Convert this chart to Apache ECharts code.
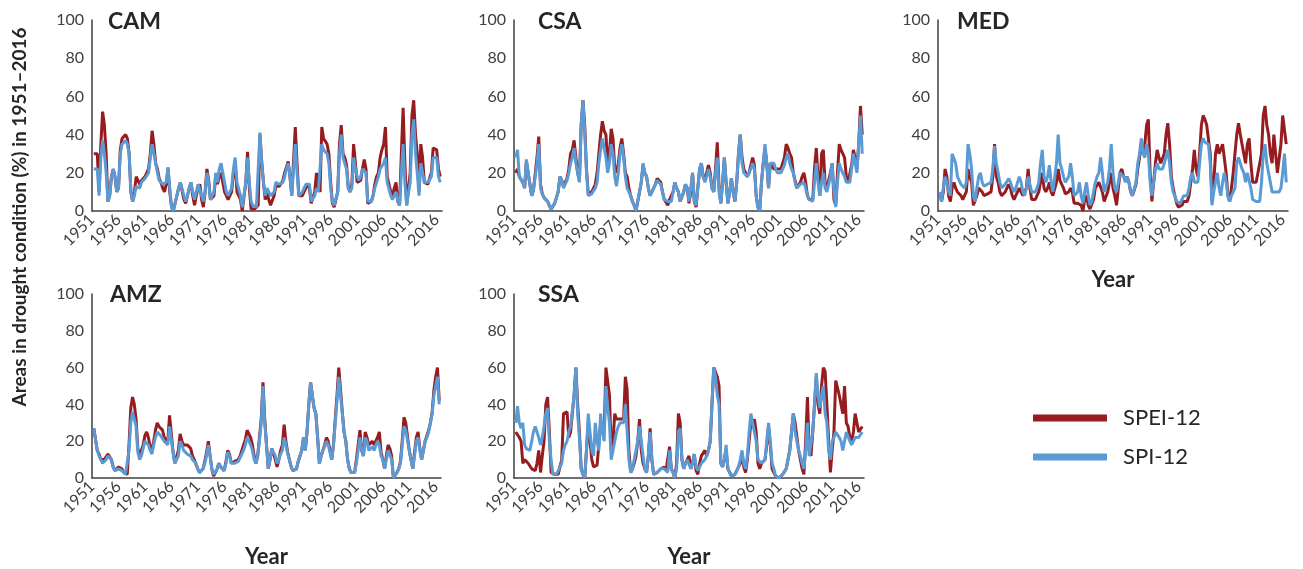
<!DOCTYPE html>
<html>
<head>
<meta charset="utf-8">
<script src="https://cdn.jsdelivr.net/npm/echarts/dist/echarts.min.js"></script>
<style>
html,body{margin:0;padding:0;background:#fff;}
#chart{width:1303px;height:569px;}
</style>
</head>
<body>
<div id="chart"></div>
<script>
// Tick labels (years) and sampling: 3 samples per year, 1951–2016
const startYear = 1951;
const tickYears = [1951,1956,1961,1966,1971,1976,1981,1986,1991,1996,2001,2006,2011,2016];
const panelNames = ['CAM','CSA','MED','AMZ','SSA'];
const seriesNames = ['SPEI-12','SPI-12'];

// ---- CAM ----
const camSpi = [
null,22,22, 22,8,28, 37,30,20, 5,8,18, 22,18,10,
12,30,35, 36,37,35, 30,10,5, 8,13,14, 12,15,16,
17,18,20, 28,35,30, 25,20,16, 15,14,13, 15,23,12,
2,0,0, 8,12,15, 14,8,5, 8,12,15, 10,6,10,
14,15,8, 5,10,20, 15,6,5, 10,20,15, 22,25,20,
15,10,8, 7,12,22, 28,15,15, 8,2,2, 15,28,15,
5,3,2, 2,3,41, 25,15,8, 12,12,8, 8,10,15,
15,14,15, 15,18,22, 25,18,8, 8,35,20, 8,8,10,
12,14,15, 14,5,5, 8,12,10, 10,35,32, 32,30,25,
12,5,3, 3,10,30, 40,28,25, 22,12,10, 12,28,22,
18,16,18, 22,22,20, 5,5,5, 8,12,15, 18,22,22,
25,28,15, 15,8,6, 8,10,5, 3,20,35, 15,3,3,
15,40,48, 30,20,8, 25,20,15, 15,15,15, 18,28,28,
28,18,15];
const camSpei = [
null,30,30, 30,10,35, 52,45,30, 5,8,18, 22,18,10,
12,32,38, 38,40,38, 30,10,5, 10,18,16, 14,16,17,
18,20,22, 30,42,35, 25,22,17, 15,12,10, 14,22,10,
2,0,0, 8,12,15, 14,6,4, 8,12,15, 8,3,8,
12,14,6, 2,10,22, 16,6,5, 8,18,14, 18,20,15,
10,8,6, 5,10,20, 25,10,10, 6,0,0, 15,31,12,
1,1,1, 2,3,40, 26,15,6, 10,6,3, 3,8,13,
13,13,14, 16,20,23, 26,18,8, 8,44,25, 8,8,8,
10,12,14, 12,4,4, 10,20,12, 10,44,38, 38,35,30,
15,4,2, 2,10,35, 45,30,28, 24,12,10, 14,35,25,
15,14,16, 22,27,22, 4,4,5, 8,14,18, 20,28,32,
35,44,18, 18,10,8, 12,15,5, 3,30,54, 25,3,3,
20,50,58, 40,30,10, 35,28,15, 14,14,15, 20,33,32,
32,22,18];

// ---- CSA ----
const csaSpi = [
null,28,32, 18,18,15, 12,27,20, 20,8,11, 12,25,35,
12,9,7, 6,5,3, 1,2,4, 5,10,18, 16,12,13,
16,20,25, 28,33,25, 20,15,45, 58,42,20, 8,8,9,
10,12,15, 25,32,38, 33,28,20, 25,35,30, 18,13,20,
30,35,28, 18,12,10, 8,5,3, 0,5,10, 15,25,20,
18,12,8, 10,12,14, 16,16,14, 10,6,5, 5,4,5,
10,15,12, 10,5,8, 10,14,12, 5,12,20, 5,3,12,
22,25,18, 15,18,22, 18,12,10, 20,28,10, 4,15,28,
15,4,10, 17,10,5, 15,30,40, 25,20,19, 18,18,22,
25,22,8, 2,0,15, 25,35,25, 12,25,25, 25,22,20,
20,20,22, 24,28,30, 25,22,20, 15,12,12, 14,15,15,
12,8,6, 5,5,15, 25,15,8, 15,20,12, 10,10,18,
25,10,2, 15,25,22, 20,18,15, 15,15,22, 30,25,20,
35,50,30];
const csaSpei = [
null,20,22, 18,18,15, 12,26,20, 20,8,11, 12,28,39,
14,9,7, 6,5,3, 1,2,4, 5,10,18, 16,13,15,
17,22,30, 32,37,28, 20,16,45, 58,45,22, 9,10,10,
12,14,20, 30,40,47, 42,40,25, 30,43,38, 22,20,25,
33,38,30, 20,18,12, 8,5,3, 0,5,10, 15,24,20,
18,12,8, 10,11,14, 17,17,15, 10,6,5, 3,6,8,
10,15,12, 10,5,6, 10,14,12, 4,10,20, 5,2,12,
22,25,18, 16,20,24, 20,12,10, 22,36,12, 4,15,28,
15,4,10, 17,10,5, 15,30,40, 28,22,20, 18,20,24,
28,24,8, 2,0,15, 25,33,25, 12,25,24, 22,22,22,
22,22,25, 28,35,33, 30,28,20, 16,12,13, 15,18,20,
15,8,6, 5,6,22, 33,18,8, 30,32,14, 12,16,20,
25,6,3, 20,35,32, 30,28,18, 15,16,24, 32,28,22,
35,55,40];

// ---- MED ----
const medSpi = [
null,10,5, 12,18,15, 10,8,30, 30,25,18, 16,14,13,
12,15,35, 30,22,8, 5,12,18, 20,15,13, 13,14,14,
15,22,34, 25,20,15, 12,12,14, 15,17,15, 12,10,12,
15,18,15, 10,8,12, 18,14,10, 10,10,12, 15,25,32,
18,15,18, 24,15,10, 10,25,40, 25,22,18, 15,15,18,
25,18,8, 8,10,15, 8,4,10, 15,8,3, 5,10,15,
18,20,28, 20,10,10, 15,22,35, 20,12,10, 15,20,20,
18,15,18, 15,10,8, 8,15,25, 30,38,30, 28,35,30,
15,8,15, 22,25,22, 22,22,25, 25,32,25, 15,10,8,
5,4,4, 5,8,8, 8,12,18, 20,15,15, 15,25,35,
38,36,35, 35,25,3, 10,15,20, 12,8,15, 20,15,8,
5,8,10, 12,25,28, 25,22,20, 15,20,20, 12,6,5,
5,5,5, 15,30,35, 25,20,15, 10,10,10, 10,10,12,
20,30,15];
const medSpei = [
null,10,5, 10,22,18, 8,5,12, 15,12,10, 9,8,6,
5,10,22, 18,15,3, 2,8,12, 12,10,8, 8,9,9,
10,18,35, 18,15,10, 8,8,10, 12,14,12, 8,6,8,
10,12,10, 8,10,12, 22,12,6, 5,6,8, 10,15,20,
12,10,12, 15,10,8, 8,15,22, 16,14,12, 9,8,10,
12,10,4, 3,4,5, 3,0,6, 8,3,1, 2,6,12,
12,15,15, 10,5,6, 10,15,20, 12,8,3, 12,20,22,
18,16,18, 15,10,8, 8,14,22, 28,35,30, 35,45,48,
20,5,15, 25,32,28, 25,25,30, 40,46,35, 18,12,8,
4,2,1, 3,5,5, 5,8,15, 22,32,22, 18,30,45,
50,48,45, 45,30,5, 15,30,35, 30,30,35, 35,20,8,
5,12,20, 30,40,46, 40,35,30, 25,35,38, 25,15,15,
15,20,25, 30,50,55, 45,40,30, 25,40,30, 20,20,35,
50,50,35];

// ---- AMZ ----
const amzSpi = [
null,27,27, 15,12,10, 8,8,10, 12,11,10, 6,4,4,
5,5,4, 3,2,2, 15,30,36, 36,28,14, 10,12,16,
20,20,18, 15,13,18, 22,25,25, 23,22,20, 20,18,28,
28,14,8, 7,12,20, 18,15,14, 13,13,12, 10,9,8,
5,3,3, 5,8,12, 18,12,5, 2,3,5, 8,6,5,
4,8,14, 12,8,8, 8,8,9, 10,13,15, 18,22,20,
18,15,10, 8,12,20, 30,50,30, 18,5,10, 16,16,12,
8,10,13, 15,22,18, 13,10,6, 4,3,5, 9,12,15,
22,15,25, 40,52,45, 38,35,22, 8,12,15, 17,20,18,
14,10,18, 30,42,55, 45,35,25, 20,10,5, 3,3,3,
8,15,22, 15,12,22, 20,15,16, 17,15,15, 20,18,12,
10,5,10, 15,15,10, 0,1,3, 5,8,18, 28,26,25,
15,10,5, 12,20,22, 15,10,15, 20,22,25, 30,35,45,
50,55,40];
const amzSpei = [
null,27,27, 15,13,10, 9,10,11, 13,12,10, 6,4,5,
6,5,5, 3,2,2, 18,38,44, 40,32,16, 12,15,18,
23,25,22, 17,15,20, 26,30,28, 28,26,22, 22,20,34,
34,14,8, 7,15,24, 20,18,17, 18,18,16, 12,10,9,
5,3,3, 5,9,14, 20,12,5, 1,2,5, 8,6,5,
4,9,15, 13,8,8, 9,9,10, 12,15,18, 21,26,24,
22,18,12, 8,12,22, 32,52,32, 18,5,10, 16,15,10,
6,10,15, 18,29,20, 14,10,6, 4,3,5, 9,12,15,
22,15,25, 40,52,45, 38,35,22, 8,12,15, 18,22,20,
15,10,18, 32,45,60, 48,36,25, 20,10,5, 3,3,3,
10,18,26, 15,12,25, 22,18,18, 20,18,17, 22,25,14,
10,5,12, 18,16,12, 0,1,3, 5,9,20, 33,30,30,
15,10,5, 14,22,25, 16,10,15, 20,23,26, 30,36,48,
55,60,42];

// ---- SSA ----
const ssaSpi = [
null,30,39, 30,27,30, 18,16,15, 15,20,25, 28,25,22,
18,22,28, 35,38,20, 10,2,2, 2,2,6, 8,15,18,
20,25,28, 28,45,60, 35,22,5, 2,0,15, 35,25,15,
12,30,20, 15,35,25, 20,50,38, 30,10,15, 20,25,28,
30,30,30, 40,25,10, 3,5,10, 15,20,28, 20,12,5,
3,12,25, 10,2,3, 3,4,5, 5,5,4, 3,15,5,
3,0,5, 25,27,10, 5,8,10, 11,5,8, 13,6,4,
5,8,9, 10,12,15, 20,40,60, 55,45,40, 8,6,10,
18,5,3, 1,1,2, 3,6,10, 15,8,5, 12,25,35,
30,25,20, 10,10,8, 8,10,20, 30,20,8, 5,1,0,
0,0,2, 3,5,5, 15,25,35, 25,20,15, 12,8,5,
15,30,12, 12,25,40, 57,45,38, 45,50,35, 30,15,10,
20,22,25, 25,22,20, 15,15,25, 25,20,18, 20,22,22,
22,22,25];
const ssaSpei = [
null,25,25, 22,20,8, 10,10,8, 7,5,5, 4,8,15,
3,12,20, 40,44,25, 3,2,2, 2,2,6, 10,35,36,
36,22,25, 25,45,60, 40,25,5, 2,0,15, 30,20,10,
6,6,7, 8,30,30, 25,60,60, 45,15,20, 35,32,32,
32,32,32, 55,48,15, 3,5,8, 12,20,32, 15,8,5,
3,12,27, 10,2,3, 3,4,5, 5,6,4, 3,17,5,
3,0,8, 35,30,10, 5,8,10, 12,5,8, 13,4,2,
8,12,13, 15,12,15, 20,40,60, 60,55,50, 8,6,10,
15,5,3, 1,1,2, 3,6,8, 13,6,3, 10,20,30,
28,32,25, 8,5,8, 8,10,18, 28,18,5, 3,1,0,
0,0,2, 3,5,5, 15,25,35, 30,30,15, 10,5,2,
20,44,15, 12,25,40, 55,40,35, 50,60,58, 40,20,3,
15,25,53, 53,45,40, 35,50,30, 28,22,20, 25,35,30,
25,25,28];

const panelData = {
  CAM: [camSpei, camSpi], CSA: [csaSpei, csaSpi], MED: [medSpei, medSpi],
  AMZ: [amzSpei, amzSpi], SSA: [ssaSpei, ssaSpi]
};

const FONT = 'Lato';
const RED = '#961c20';
const BLUE = '#5b9bd5';
const AXIS = '#404040';

const layout = [
  {left: 92, top: 20, width: 350, height: 191, yearTitle: false, gap: 58, tx: 108, ty: 22},
  {left: 514, top: 20, width: 350, height: 191, yearTitle: false, gap: 58, tx: 538, ty: 22},
  {left: 938, top: 20, width: 350, height: 191, yearTitle: true, gap: 58, tx: 957, ty: 22},
  {left: 92, top: 294, width: 349, height: 190, yearTitle: true, gap: 68, tx: 110, ty: 295},
  {left: 514, top: 294, width: 350, height: 190, yearTitle: true, gap: 68, tx: 538, ty: 295}
];

function toPairs(arr) { return arr.map((v, i) => [i / 3, v]); }

const grids = [], xAxes = [], yAxes = [], series = [], graphics = [];
panelNames.forEach((name, i) => {
  const L = layout[i];
  grids.push({left: L.left, top: L.top, width: L.width, height: L.height});
  xAxes.push({
    type: 'value', gridIndex: i, min: 0, max: 66, interval: 5,
    axisLine: {lineStyle: {color: AXIS, width: 1.5}},
    axisTick: {show: false}, splitLine: {show: false},
    axisLabel: {
      rotate: 45, margin: 6, fontSize: 16, fontFamily: FONT, color: AXIS,
      showMaxLabel: false,
      formatter: v => { const y = startYear + Math.round(v); return tickYears.includes(y) && v <= 65 ? String(y) : ''; }
    },
    name: L.yearTitle ? 'Year' : '', nameLocation: 'middle', nameGap: L.gap,
    nameTextStyle: {fontSize: 22, fontWeight: 'bold', fontFamily: FONT, color: '#262626'}
  });
  yAxes.push({
    type: 'value', gridIndex: i, min: 0, max: 100, interval: 20,
    axisLine: {show: true, lineStyle: {color: AXIS, width: 1.5}},
    axisTick: {show: false}, splitLine: {show: false},
    axisLabel: {margin: 8, fontSize: 16, fontFamily: FONT, color: AXIS}
  });
  const [spei, spi] = panelData[name];
  series.push({
    name: seriesNames[0], type: 'line', xAxisIndex: i, yAxisIndex: i,
    data: toPairs(spei), showSymbol: false, symbol: 'none', color: RED,
    lineStyle: {color: RED, width: 3}, z: 2
  });
  series.push({
    name: seriesNames[1], type: 'line', xAxisIndex: i, yAxisIndex: i,
    data: toPairs(spi), showSymbol: false, symbol: 'none', color: BLUE,
    lineStyle: {color: BLUE, width: 3}, z: 3
  });
  graphics.push({
    type: 'text', x: L.tx, y: L.ty,
    style: {text: name, fontSize: 23, fontWeight: 'bold', fontFamily: FONT, fill: '#262626', verticalAlign: 'middle'}
  });
});

graphics.push({
  type: 'text', x: 20, y: 217, rotation: Math.PI / 2,
  style: {text: 'Areas in drought condition (%) in 1951–2016', fontSize: 19, fontWeight: 'bold',
          fontFamily: FONT, fill: '#262626', align: 'center', verticalAlign: 'middle'}
});

const legendBase = {
  orient: 'vertical', padding: 0, itemWidth: 74, itemHeight: 7, icon: 'rect',
  selectedMode: false,
  textStyle: {fontSize: 22, fontFamily: FONT, color: '#262626', padding: [0, 0, 0, 11]}
};

const option = {
  animation: false,
  backgroundColor: '#ffffff',
  grid: grids, xAxis: xAxes, yAxis: yAxes, series: series,
  legend: [
    Object.assign({}, legendBase, {data: [seriesNames[0]], left: 1033, top: 407}),
    Object.assign({}, legendBase, {data: [seriesNames[1]], left: 1033, top: 446})
  ],
  graphic: graphics
};

const chart = echarts.init(document.getElementById('chart'), null, {renderer: 'canvas'});
chart.setOption(option);
</script>
</body>
</html>
